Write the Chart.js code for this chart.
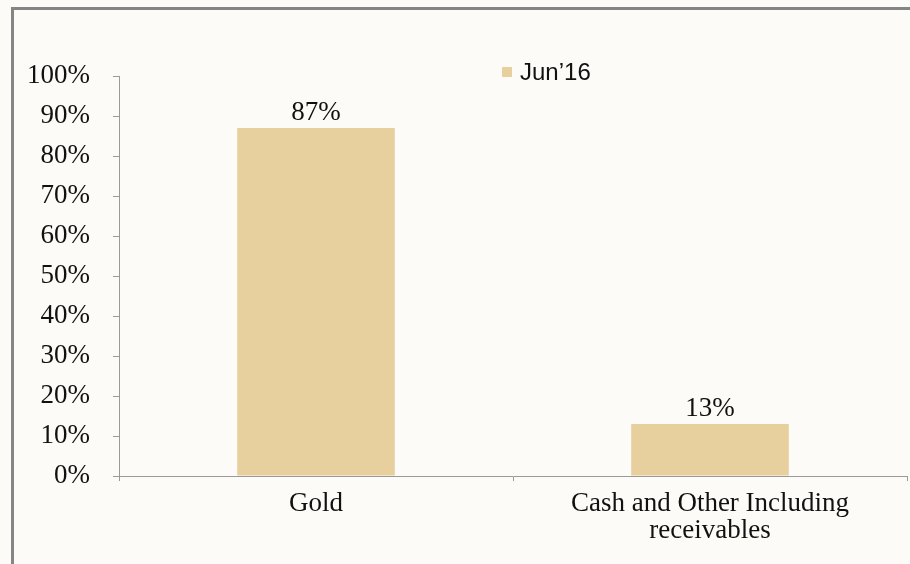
<!DOCTYPE html>
<html>
<head>
<meta charset="utf-8">
<script src="https://cdn.jsdelivr.net/npm/chart.js@4.4.1/dist/chart.umd.min.js"></script>
<style>
  html, body { margin: 0; padding: 0; background: #fdfbf7; }
  #wrap { width: 910px; height: 564px; position: relative; }
</style>
</head>
<body>
<div id="wrap"><canvas id="c" width="910" height="564"></canvas></div>
<script>
const categories = ['Gold', ['Cash and Other Including', 'receivables']]
const seriesName = 'Jun\u201916'
const seriesValues = [87, 13]
const tickValues = [0, 10, 20, 30, 40, 50, 60, 70, 80, 90, 100]

const barColor = '#e8d09e'
const axisColor = '#9a9a9a'
const serif = '"Liberation Serif", "Times New Roman", serif'
const sans = '"Liberation Sans", Arial, sans-serif'

// frame, value labels and the small legend
const decor = {
  id: 'decor',
  beforeDraw(chart) {
    const { ctx, width, height } = chart
    ctx.save()
    ctx.fillStyle = '#fdfbf7'
    ctx.fillRect(0, 0, width, height)
    ctx.strokeStyle = '#858585'
    ctx.lineWidth = 3
    ctx.beginPath()
    ctx.moveTo(12.5, height + 2)
    ctx.lineTo(12.5, 8.5)
    ctx.lineTo(width + 2, 8.5)
    ctx.stroke()
    ctx.restore()
  },
  afterDatasetsDraw(chart) {
    const { ctx } = chart
    const meta = chart.getDatasetMeta(0)
    ctx.save()
    ctx.fillStyle = '#111'
    ctx.font = `27px ${serif}`
    ctx.textAlign = 'center'
    ctx.textBaseline = 'alphabetic'
    meta.data.forEach((bar, i) => {
      ctx.fillText(seriesValues[i] + '%', bar.x, bar.y - 8)
    })
    // legend
    const ds = chart.data.datasets[0]
    ctx.fillStyle = ds.backgroundColor
    ctx.fillRect(502, 67, 10, 10)
    ctx.fillStyle = '#111'
    ctx.font = `24px ${sans}`
    ctx.textAlign = 'left'
    ctx.textBaseline = 'middle'
    ctx.fillText(ds.label, 520, 73)
    ctx.restore()
  },
}

new Chart(document.getElementById('c'), {
  type: 'bar',
  data: {
    labels: categories,
    datasets: [{
      label: seriesName,
      data: seriesValues,
      backgroundColor: barColor,
      borderWidth: 0,
      categoryPercentage: 0.4,
      barPercentage: 1.0,
    }],
  },
  options: {
    responsive: false,
    animation: false,
    devicePixelRatio: 1,
    layout: { padding: { left: 0, right: 3, top: 76, bottom: 0 } },
    plugins: {
      legend: { display: false },
      tooltip: { enabled: false },
    },
    scales: {
      x: {
        grid: { drawOnChartArea: false, drawTicks: true, tickLength: 5, color: axisColor },
        border: { color: axisColor, width: 1 },
        ticks: {
          color: '#111',
          padding: 9,
          font: { family: serif, size: 27, lineHeight: 1.0 },
          maxRotation: 0,
          autoSkip: false,
        },
        afterFit(scale) { scale.height = 88 },
      },
      y: {
        min: 0,
        max: 100,
        afterBuildTicks(scale) { scale.ticks = tickValues.map(v => ({ value: v })) },
        grid: { drawOnChartArea: false, drawTicks: true, tickLength: 6, color: axisColor },
        border: { color: axisColor, width: 1 },
        ticks: {
          color: '#111',
          padding: 23,
          font: { family: serif, size: 27 },
          callback: v => v + '%',
        },
        afterFit(scale) { scale.width = 119 },
      },
    },
  },
  plugins: [decor],
})
</script>
</body>
</html>
